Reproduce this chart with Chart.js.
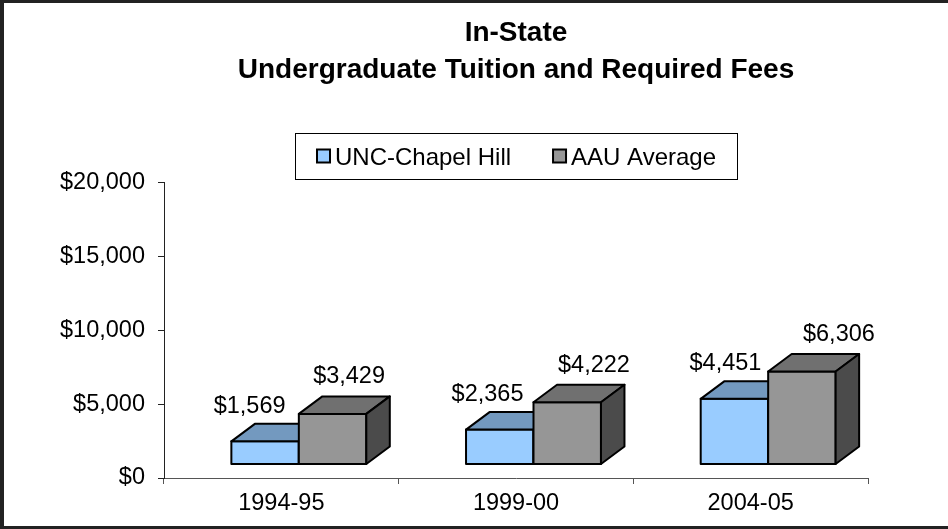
<!DOCTYPE html>
<html><head><meta charset="utf-8">
<script src="https://cdn.jsdelivr.net/npm/chart.js@4"></script>
<style>html,body{margin:0;padding:0;background:#fff;overflow:hidden}#wrap{width:948px;height:529px;position:relative}</style>
</head><body><div id="wrap"><canvas id="c" width="948" height="529"></canvas></div>
<script>
const categories = ['1994-95', '1999-00', '2004-05'];
const seriesNames = ['UNC-Chapel Hill', 'AAU Average'];
const uncValues = [1569, 2365, 4451];
const aauValues = [3429, 4222, 6306];
const yTicks = [0, 5000, 10000, 15000, 20000];
const titleLines = ['In-State', 'Undergraduate Tuition and Required Fees'];

const FONT = "'Liberation Sans', Arial, sans-serif";
const styles = [
  {front: '#99CCFF', top: '#7399BF', side: '#5C7A99', labelShift: -15.5, labelSlope: 3.25, labelLift: 28.5},
  {front: '#969696', top: '#707070', side: '#4B4B4B', labelShift: 16.5, labelSlope: 10.25, labelLift: 30.5}
];
const OX = 17.5, OY = -13.5, DX = 23.5, DY = -17.5;

function poly(ctx, pts, fill) {
  ctx.beginPath();
  ctx.moveTo(pts[0][0], pts[0][1]);
  for (let k = 1; k < pts.length; k++) ctx.lineTo(pts[k][0], pts[k][1]);
  ctx.closePath();
  ctx.fillStyle = fill;
  ctx.fill();
  ctx.stroke();
}
const fmt = v => '$' + v.toLocaleString('en-US');

const box3d = {
  id: 'box3d',
  beforeDraw(chart) {
    const ctx = chart.ctx;
    ctx.save(); ctx.fillStyle = '#fff'; ctx.fillRect(0, 0, chart.width, chart.height); ctx.restore();
  },
  afterLayout(chart) {
    const t = chart.titleBlock;
    if (t) { t.left = chart.chartArea.left; t.right = chart.chartArea.right; }
  },
  afterDatasetsDraw(chart) {
    const ctx = chart.ctx;
    const n = chart.data.labels.length;
    ctx.save();
    ctx.lineWidth = 2; ctx.lineJoin = 'round'; ctx.strokeStyle = '#000';
    const fronts = [];
    for (let i = 0; i < n; i++) {
      chart.data.datasets.forEach((ds, d) => {
        const el = chart.getDatasetMeta(d).data[i];
        const p = el.getProps(['x', 'y', 'base', 'width'], true);
        const x0 = p.x - p.width / 2 + OX, x1 = p.x + p.width / 2 + OX;
        const yt = p.y + OY, yb = p.base + OY;
        const st = styles[d];
        poly(ctx, [[x0, yt], [x1, yt], [x1, yb], [x0, yb]], st.front);
        poly(ctx, [[x0, yt], [x0 + DX, yt + DY], [x1 + DX, yt + DY], [x1, yt]], st.top);
        poly(ctx, [[x1, yt], [x1 + DX, yt + DY], [x1 + DX, yb + DY], [x1, yb]], st.side);
        fronts.push({d, i, cx: (x0 + x1) / 2, yt, v: ds.data[i]});
      });
    }
    ctx.fillStyle = '#000';
    ctx.font = '23.5px ' + FONT;
    ctx.textAlign = 'center'; ctx.textBaseline = 'alphabetic';
    fronts.forEach(f => {
      const st = styles[f.d];
      ctx.fillText(fmt(f.v), f.cx + st.labelShift + st.labelSlope * f.i, f.yt - st.labelLift);
    });
    ctx.restore();
  },
  afterDraw(chart) {
    const ctx = chart.ctx, ca = chart.chartArea;
    ctx.save();
    // legend
    ctx.font = '24px ' + FONT;
    const sw = 15, gap = 4, itemGap = 41, pad = 21;
    const labels = chart.data.datasets.map(ds => ds.label);
    const widths = labels.map(l => ctx.measureText(l).width);
    const total = pad * 2 + widths.reduce((a, w) => a + sw + gap + w, 0) + itemGap * (widths.length - 1);
    const cx = (ca.left + ca.right) / 2;
    const left = Math.round(cx - total / 2);
    const top = Math.round(ca.top - 50), h = 46;
    ctx.lineWidth = 1; ctx.strokeStyle = '#000';
    ctx.strokeRect(left + 0.5, top + 0.5, Math.round(total), h);
    let x = left + pad;
    const midY = top + h / 2;
    labels.forEach((l, k) => {
      ctx.fillStyle = styles[k].front;
      ctx.lineWidth = 2;
      ctx.fillRect(x + 1, midY - sw / 2 + 1, sw - 2, sw - 2);
      ctx.strokeRect(x + 1, midY - sw / 2 + 1, sw - 2, sw - 2);
      ctx.fillStyle = '#000';
      ctx.textAlign = 'left'; ctx.textBaseline = 'alphabetic';
      ctx.fillText(l, x + sw + gap, midY + 8.5);
      x += sw + gap + widths[k] + itemGap;
    });
    // frame
    ctx.fillStyle = '#222';
    ctx.fillRect(0, 0, chart.width, 3);
    ctx.fillRect(0, 0, 4, chart.height);
    ctx.fillRect(0, chart.height - 3, chart.width, 3);
    ctx.restore();
  }
};

Chart.defaults.font.family = FONT;
Chart.defaults.color = '#000';

new Chart(document.getElementById('c'), {
  type: 'bar',
  data: {
    labels: categories,
    datasets: [
      {label: seriesNames[0], data: uncValues, backgroundColor: 'rgba(0,0,0,0)', borderWidth: 0},
      {label: seriesNames[1], data: aauValues, backgroundColor: 'rgba(0,0,0,0)', borderWidth: 0}
    ]
  },
  options: {
    responsive: false, animation: false, devicePixelRatio: 1,
    layout: {padding: {left: 0, right: 80, top: 0, bottom: 0}},
    datasets: {bar: {categoryPercentage: 0.575, barPercentage: 1}},
    plugins: {
      legend: {display: false},
      tooltip: {enabled: false},
      title: {
        display: true, text: titleLines, color: '#000',
        font: {size: 28, weight: 'bold', family: FONT, lineHeight: 1.32},
        padding: {top: 15, bottom: 94}
      }
    },
    scales: {
      x: {
        grid: {display: true, drawOnChartArea: false, drawTicks: true, tickLength: 6, color: '#555', offset: true},
        border: {display: true, color: '#555', width: 1},
        ticks: {font: {size: 23.5}, padding: 5, color: '#000', maxRotation: 0, autoSkip: false},
        afterFit(s) { s.height = 51; }
      },
      y: {
        min: 0, max: 20000,
        afterBuildTicks(s) { s.ticks = yTicks.map(v => ({value: v})); },
        grid: {drawOnChartArea: false, drawTicks: true, tickLength: 6, color: '#222'},
        border: {display: true, color: '#222', width: 1},
        ticks: {font: {size: 23.5}, padding: 13, color: '#000', callback: v => fmt(v)},
        afterFit(s) { s.width = 164; }
      }
    }
  },
  plugins: [box3d]
});
</script>
</body></html>
